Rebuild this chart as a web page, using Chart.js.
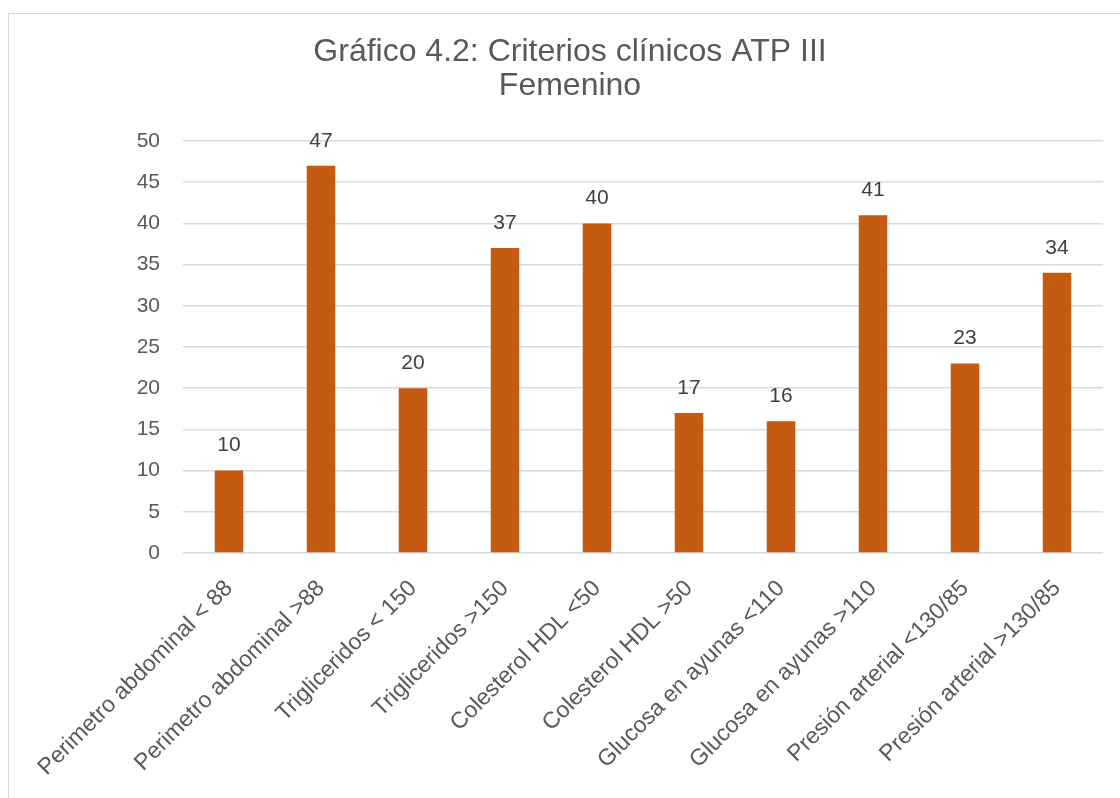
<!DOCTYPE html>
<html>
<head>
<meta charset="utf-8">
<script src="https://cdn.jsdelivr.net/npm/chart.js"></script>
<style>
    html, body { margin: 0; padding: 0; background: #fff; }
    #wrap { position: relative; width: 1120px; height: 798px; overflow: hidden; }
    #frame { position: absolute; left: 8px; top: 13px; width: 1130px; height: 800px; border: 1px solid #d9d9d9; box-sizing: border-box; }
    canvas { position: absolute; left: 0; top: 0; }
</style>
</head>
<body>
<div id="wrap">
    <div id="frame"></div>
    <canvas id="chart" width="1120" height="798"></canvas>
</div>
<script>
const categories = [
    'Perimetro abdominal < 88',
    'Perimetro abdominal >88',
    'Trigliceridos < 150',
    'Trigliceridos >150',
    'Colesterol HDL <50',
    'Colesterol HDL >50',
    'Glucosa en ayunas <110',
    'Glucosa en ayunas >110',
    'Presión arterial <130/85',
    'Presión arterial >130/85'
];
const values = [10, 47, 20, 37, 40, 17, 16, 41, 23, 34];
const titleLines = ['Gráfico 4.2: Criterios clínicos ATP III', 'Femenino'];
const yMin = 0;
const yMax = 50;
const yStep = 5;

// Draw the value above each bar
const barLabels = {
    id: 'barLabels',
    afterDatasetsDraw(chart) {
        const ctx = chart.ctx;
        const meta = chart.getDatasetMeta(0);
        ctx.save();
        ctx.font = '21px "Liberation Sans", Arial, sans-serif';
        ctx.fillStyle = '#404040';
        ctx.textAlign = 'center';
        ctx.textBaseline = 'middle';
        meta.data.forEach((bar, i) => {
            ctx.fillText(values[i], bar.x, bar.y - 25);
        });
        ctx.restore();
    }
};

new Chart(document.getElementById('chart').getContext('2d'), {
    type: 'bar',
    data: {
        labels: categories,
        datasets: [{
            data: values,
            backgroundColor: '#c55a11',
            borderWidth: 0,
            categoryPercentage: 1,
            barPercentage: 0.31
        }]
    },
    options: {
        responsive: false,
        animation: false,
        layout: { padding: { left: 37, right: 17, top: 0, bottom: 0 } },
        plugins: {
            legend: { display: false },
            tooltip: { enabled: false },
            title: {
                display: true,
                text: titleLines,
                color: '#595959',
                font: { family: '"Liberation Sans", Arial, sans-serif', size: 32, weight: 'normal', lineHeight: 1.0625 },
                padding: { top: 35, bottom: 38 }
            }
        },
        scales: {
            x: {
                grid: { display: false },
                border: { display: false },
                ticks: {
                    autoSkip: false,
                    maxRotation: 45,
                    minRotation: 45,
                    padding: 14,
                    color: '#595959',
                    font: { family: '"Liberation Sans", Arial, sans-serif', size: 23 }
                },
                afterFit(scale) { scale.height = 245; }
            },
            y: {
                min: yMin,
                max: yMax,
                grid: { color: '#d9d9d9', lineWidth: 1.5, drawTicks: false },
                border: { display: false },
                ticks: {
                    stepSize: yStep,
                    padding: 23,
                    color: '#595959',
                    font: { family: '"Liberation Sans", Arial, sans-serif', size: 21 }
                },
                afterFit(scale) { scale.width = 146; }
            }
        }
    },
    plugins: [barLabels]
});
</script>
</body>
</html>
